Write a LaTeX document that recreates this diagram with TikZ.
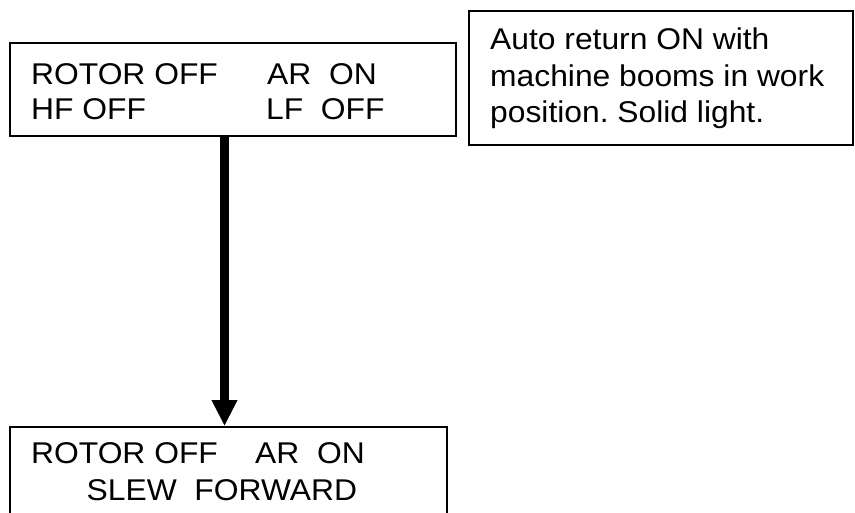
\documentclass[tikz,border=0pt]{standalone}
\usepackage{fontspec}
\setmainfont[FakeStretch=1.06]{Liberation Sans}
\usetikzlibrary{arrows.meta}
\begin{document}
\frenchspacing
\begin{tikzpicture}[x=1pt,y=-1pt,
  box/.style={draw=black,line width=1.8pt,inner sep=0pt},
  txt/.style={anchor=base west,inner sep=0pt,font=\fontsize{30}{36}\selectfont},
  flow/.style={line width=9.5pt,-{Triangle[width=24pt,length=26pt]}}]
\useasboundingbox (0,0) rectangle (855,513);
\clip (0,0) rectangle (855,513);
% top-left box
\node[box,minimum width=446pt,minimum height=93pt] (top) at (233,89.5) {};
\node[txt] (t1) at (31,85) {ROTOR OFF};
\node[txt] (t2) at (267,85) {AR~~ON};
\node[txt] (t3) at (31,120) {HF OFF};
\node[txt] (t4) at (266,120) {LF~~OFF};
% note box
\node[box,minimum width=384pt,minimum height=134pt] (note) at (661,78) {};
\node[txt] (n1) at (490,50) {Auto return ON with};
\node[txt] (n2) at (490,86.5) {machine booms in work};
\node[txt] (n3) at (490,123) {position. Solid light.};
% bottom box (continues past lower edge)
\node[box,minimum width=437pt,minimum height=140pt] (bot) at (228.5,497) {};
\node[txt] (b1) at (31,463) {ROTOR OFF};
\node[txt] (b2) at (255,463) {AR~~ON};
\node[txt] (b4) at (86.5,500) {SLEW~~FORWARD};
% connector
\coordinate (ax) at (224.5,0);
\draw[flow] (top.south -| ax) -- (bot.north -| ax);
\end{tikzpicture}
\end{document}
